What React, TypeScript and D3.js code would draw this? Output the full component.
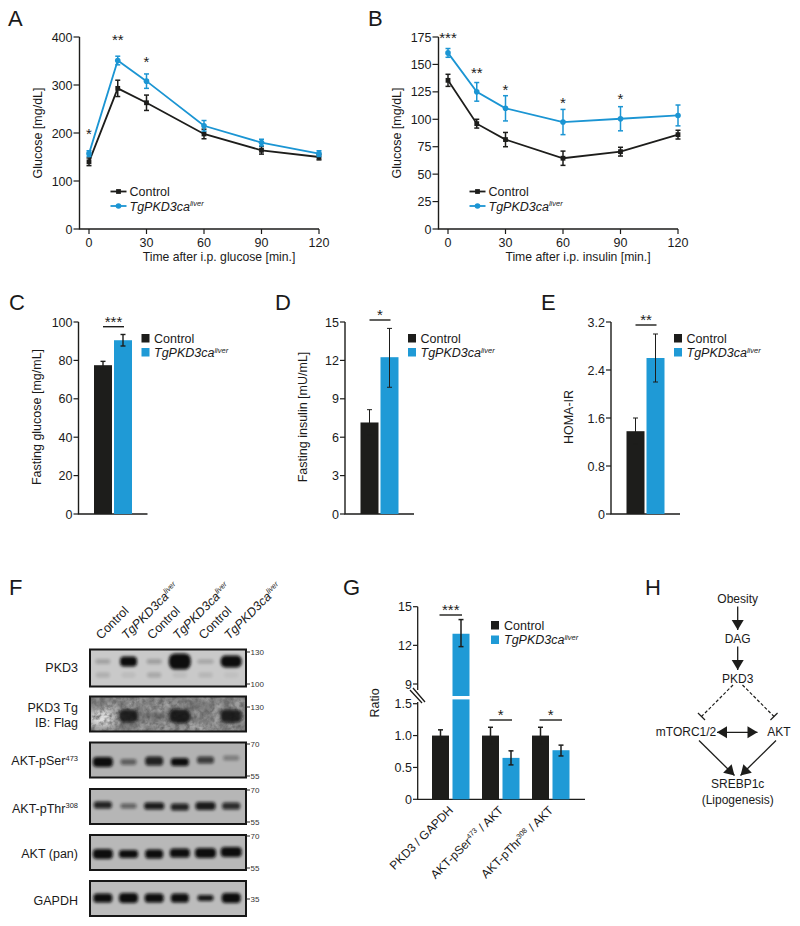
import * as d3 from "d3";

const BLACK = "#1d1d1b";
const BLUE = "#1f9ad6";
const LINE_BLUE = "#1b95d3";
const FONT = "'Liberation Sans', Arial, sans-serif";

// panels A and B
const minutes = [0, 15, 30, 60, 90, 120];
const minuteTicks = [0, 30, 60, 90, 120];
const gttControl = [140, 293, 263, 198, 164, 150];
const gttControlErr = [8, 17, 16, 10, 8, 6];
const gttTg = [157, 351, 308, 215, 180, 157];
const gttTgErr = [6, 9, 15, 11, 7, 6];
const gttStars = [
  { t: 0, v: 200, s: "*" },
  { t: 15, v: 395, s: "**" },
  { t: 30, v: 350, s: "*" },
];
const ittControl = [135.5, 96, 81.5, 64.5, 70.5, 86];
const ittControlErr = [5.5, 4, 6.5, 6.5, 4, 4];
const ittTg = [160.5, 125, 110, 97.5, 100.5, 103.5];
const ittTgErr = [4, 8.5, 11.5, 11.5, 11, 9.5];
const ittStars = [
  { t: 0, v: 175, s: "***" },
  { t: 15, v: 143, s: "**" },
  { t: 30, v: 128, s: "*" },
  { t: 60, v: 116, s: "*" },
  { t: 90, v: 119, s: "*" },
];

// panels C, D, E: [control, tg]
const fastingGlucose = [77.5, 90.5];
const fastingGlucoseErr = [[75.5, 79.5], [87.5, 93.5]];
const fastingInsulin = [7.15, 12.25];
const fastingInsulinErr = [[6.15, 8.15], [9.9, 14.5]];
const homa = [1.38, 2.6];
const homaErr = [[1.17, 1.6], [2.2, 3.0]];

// panel G
const ratioControl = [1, 1, 1];
const ratioControlErr = [[0.91, 1.09], [0.87, 1.13], [0.87, 1.13]];
const ratioTg = [12.9, 0.65, 0.77];
const ratioTgErr = [[11.9, 14], [0.54, 0.76], [0.68, 0.85]];
const ratioStars = ["***", "*", "*"];

// panel F band strengths per lane, 0..1
const laneNames = ["Control", "Tg", "Control", "Tg", "Control", "Tg"];
const pkd3Upper = [0.2, 1, 0.22, 1, 0.2, 1];
const pkd3UpperW = [15, 17, 15, 22, 16, 21];
const pkd3UpperH = [5, 10, 5, 16, 4, 12];
const pkd3Lower = [0.14, 0.07, 0.18, 0.07, 0.1, 0.05];
const flagBand = [0, 0.85, 0.14, 0.88, 0, 0.85];
const flagW = [10, 19, 18, 21, 10, 21];
const flagH = [4, 13, 5, 14, 4, 13];
const serBand = [1, 0.5, 0.88, 1, 0.72, 0.32];
const serW = [20, 16, 18, 18, 17, 16];
const serH = [10, 6, 9, 8, 7, 5];
const thrBand = [0.88, 0.5, 0.92, 0.88, 0.92, 0.82];
const thrW = [18, 16, 20, 18, 20, 18];
const thrH = [7, 5, 7, 7, 8, 7];
const panBand = [1, 1, 1, 1, 1, 1];
const panW = [20, 19, 18, 20, 21, 21];
const panH = [10, 8, 9, 9, 10, 10];
const gapdhBand = [1, 1, 1, 1, 0.95, 1];
const gapdhW = [19, 19, 19, 18, 16, 19];
const gapdhH = [9, 10, 9, 9, 6, 10];

const Tg = ({ size = 12 }: { size?: number }) => (
  <>
    <tspan fontStyle="italic">TgPKD3ca</tspan>
    <tspan fontStyle="italic" fontSize={size * 0.6} dy={-size * 0.35}>liver</tspan>
  </>
);

const Star = ({ x, y, s }: any) => (
  <text x={x} y={y} textAnchor="middle" fontSize={15} fill={BLACK}>{s}</text>
);

const ErrorBar = ({ x, y0, y1, color, cap = 2.5, w = 1.5 }: any) => (
  <g stroke={color} strokeWidth={w} fill="none">
    <line x1={x} x2={x} y1={y0} y2={y1} />
    <line x1={x - cap} x2={x + cap} y1={y0} y2={y0} />
    <line x1={x - cap} x2={x + cap} y1={y1} y2={y1} />
  </g>
);

const LinePanel = ({ left, label, ticks, maxY, xTitle, control, controlErr, tg, tgErr, stars }: any) => {
  const x = d3.scaleLinear().domain([0, 120]).range([left + 9.5, left + 239.5]);
  const y = d3.scaleLinear().domain([0, maxY]).range([229, 37]);
  const line = d3.line<number>().x((_, i) => x(minutes[i])).y((d) => y(d));
  return (
    <g>
      <path d={`M${left},37V229H${x(120)}`} fill="none" stroke={BLACK} strokeWidth={1.4} />
      {ticks.map((t: number) => (
        <g key={t}>
          <line x1={left - 6} x2={left} y1={y(t)} y2={y(t)} stroke={BLACK} strokeWidth={1.2} />
          <text x={left - 7} y={y(t) + 4.5} textAnchor="end" fontSize={12.5}>{t}</text>
        </g>
      ))}
      {minuteTicks.map((t) => (
        <g key={t}>
          <line x1={x(t)} x2={x(t)} y1={229} y2={234} stroke={BLACK} strokeWidth={1.2} />
          <text x={x(t)} y={247} textAnchor="middle" fontSize={12.5}>{t}</text>
        </g>
      ))}
      <text x={left + 139.5} y={261} textAnchor="middle" fontSize={12.2}>{xTitle}</text>
      <text transform={`translate(${left - 38},133) rotate(-90)`} textAnchor="middle" fontSize={12.5}>{label}</text>
      <path d={line(control) as string} fill="none" stroke={BLACK} strokeWidth={1.8} />
      {control.map((v: number, i: number) => (
        <g key={i}>
          <ErrorBar x={x(minutes[i])} y0={y(v - controlErr[i])} y1={y(v + controlErr[i])} color={BLACK} />
          <rect x={x(minutes[i]) - 2.4} y={y(v) - 2.4} width={4.8} height={4.8} fill={BLACK} />
        </g>
      ))}
      <path d={line(tg) as string} fill="none" stroke={LINE_BLUE} strokeWidth={1.8} />
      {tg.map((v: number, i: number) => (
        <g key={i}>
          <ErrorBar x={x(minutes[i])} y0={y(v - tgErr[i])} y1={y(v + tgErr[i])} color={LINE_BLUE} />
          <circle cx={x(minutes[i])} cy={y(v)} r={2.8} fill={LINE_BLUE} />
        </g>
      ))}
      {stars.map((s: any) => (
        <Star key={s.t} x={x(s.t)} y={y(s.v) + 6} s={s.s} />
      ))}
      <line x1={left + 31} x2={left + 47} y1={191.5} y2={191.5} stroke={BLACK} strokeWidth={1.8} />
      <rect x={left + 36.6} y={189.1} width={4.8} height={4.8} fill={BLACK} />
      <text x={left + 50} y={196} fontSize={12.5}>Control</text>
      <line x1={left + 31} x2={left + 47} y1={206} y2={206} stroke={LINE_BLUE} strokeWidth={1.8} />
      <circle cx={left + 39} cy={206} r={2.8} fill={LINE_BLUE} />
      <text x={left + 50} y={210.5} fontSize={12.5}><Tg size={12.5} /></text>
    </g>
  );
};

const BarPanel = ({ left, label, ticks, maxY, values, errs, star, sigY, thin }: any) => {
  const y = d3.scaleLinear().domain([0, maxY]).range([514, 322]);
  const x = d3.scaleBand<number>().domain([0, 1]).range([left + 15.5, left + 53.5]).paddingInner(0.1);
  const colors = [BLACK, BLUE];
  const bw = x.bandwidth();
  return (
    <g>
      <path d={`M${left},322V514H${left + 69}`} fill="none" stroke={BLACK} strokeWidth={1.4} />
      {ticks.map((t: number) => (
        <g key={t}>
          <line x1={left - 5} x2={left} y1={y(t)} y2={y(t)} stroke={BLACK} strokeWidth={1.2} />
          <text x={left - 6} y={y(t) + 4.5} textAnchor="end" fontSize={12.5}>{t}</text>
        </g>
      ))}
      <text transform={`translate(${left - 38},417) rotate(-90)`} textAnchor="middle" fontSize={12.5}>{label}</text>
      {values.map((v: number, i: number) => (
        <g key={i}>
          <rect x={x(i)} y={y(v)} width={bw} height={514 - y(v)} fill={colors[i]} />
          <ErrorBar x={(x(i) as number) + bw / 2} y0={y(errs[i][0])} y1={y(errs[i][1])} color={BLACK} w={thin ? 1 : 1.4} />
        </g>
      ))}
      <line x1={left + 24.5} x2={left + 45.5} y1={sigY} y2={sigY} stroke={BLACK} strokeWidth={1.4} />
      <Star x={left + 35} y={sigY} s={star} />
      <rect x={left + 63} y={334} width={8} height={8.5} fill={BLACK} />
      <text x={left + 75.5} y={343} fontSize={12.5}>Control</text>
      <rect x={left + 63} y={348} width={8} height={8.5} fill={BLUE} />
      <text x={left + 75.5} y={357} fontSize={12.5}><Tg size={12.5} /></text>
    </g>
  );
};

const laneX = d3.scaleBand<number>().domain(d3.range(6)).range([90, 244]);

const Blot = ({ top, bottom, bg, rows, noise, lines, marks }: any) => (
  <g>
    <clipPath id={`clip${top}`}>
      <rect x={90} y={top} width={156} height={bottom - top} />
    </clipPath>
    <rect x={90} y={top} width={156} height={bottom - top} fill={bg} />
    <g clipPath={`url(#clip${top})`}>
      {noise && <rect x={90} y={top} width={156} height={bottom - top} filter="url(#mottleLight)" opacity={0.4} />}
      {noise && <rect x={90} y={top + 14} width={24} height={16} fill="#e4e4e4" filter="url(#wideBlur)" />}
      {noise && <rect x={90} y={top} width={156} height={bottom - top} filter="url(#mottleDark)" opacity={0.85} />}
      {rows.map((r: any, ri: number) =>
        r.band.map((v: number, i: number) => (
          <rect
            key={`${ri}-${i}`}
            x={(laneX(i) as number) + laneX.bandwidth() / 2 - r.w[i] / 2}
            y={r.cy + (r.drift ? r.drift[i] : 0) - r.h[i] / 2}
            width={r.w[i]}
            height={r.h[i]}
            rx={Math.min(r.h[i], r.w[i]) * 0.4}
            fill="#0b0b0b"
            opacity={v}
            filter="url(#bandBlur)"
          />
        ))
      )}
    </g>
    <rect x={90} y={top} width={156} height={bottom - top} fill="none" stroke="#161616" strokeWidth={2} />
    {lines.map((l: any, i: number) => (
      <text key={i} x={78} y={l.y} textAnchor="end" fontSize={12.5}>
        {l.text}
        {l.sup && <tspan fontSize={7.5} dy={-4.5}>{l.sup}</tspan>}
      </text>
    ))}
    {marks.map((m: any) => (
      <g key={m.y}>
        <line x1={246} x2={250} y1={m.y} y2={m.y} stroke="#222" strokeWidth={1} />
        <text x={250.5} y={m.y + 3} fontSize={8} fill="#333">{m.t}</text>
      </g>
    ))}
  </g>
);

const PanelF = () => (
  <g>
    {laneNames.map((n, i) => (
      <text
        key={i}
        transform={`translate(${(laneX(i) as number) + 11},640) rotate(-45)`}
        fontSize={12.5}
      >
        {n === "Tg" ? <Tg size={12.5} /> : n}
      </text>
    ))}
    <Blot
      top={649.5}
      bottom={686.5}
      bg="#c9c9c9"
      rows={[
        { cy: 661.5, band: pkd3Upper, w: pkd3UpperW, h: pkd3UpperH },
        { cy: 675, band: pkd3Lower, w: pkd3UpperW.map(() => 14), h: pkd3UpperW.map(() => 5) },
      ]}
      lines={[{ y: 671.5, text: "PKD3" }]}
      marks={[{ y: 652, t: "130" }, { y: 684, t: "100" }]}
    />
    <Blot
      top={696.5}
      bottom={731.5}
      bg="#7e7e7e"
      noise
      rows={[{ cy: 716, band: flagBand, w: flagW, h: flagH }]}
      lines={[{ y: 711.5, text: "PKD3 Tg" }, { y: 727, text: "IB: Flag" }]}
      marks={[{ y: 707, t: "130" }]}
    />
    <Blot
      top={742.5}
      bottom={777.5}
      bg="#b2b2b2"
      rows={[{ cy: 761, band: serBand, w: serW, h: serH, drift: [1, 1, 0, 1, -1, -3] }]}
      lines={[{ y: 765, text: "AKT-pSer", sup: "473" }]}
      marks={[{ y: 744, t: "70" }, { y: 776, t: "55" }]}
    />
    <Blot
      top={789}
      bottom={824}
      bg="#b6b6b6"
      rows={[{ cy: 806, band: thrBand, w: thrW, h: thrH, drift: [-1, 0, 0, 1, 0, 0] }]}
      lines={[{ y: 812.5, text: "AKT-pThr", sup: "308" }]}
      marks={[{ y: 790, t: "70" }, { y: 822, t: "55" }]}
    />
    <Blot
      top={835}
      bottom={870}
      bg="#b8b8b8"
      rows={[{ cy: 853, band: panBand, w: panW, h: panH, drift: [1, 1, 1, 0, 0, -1] }]}
      lines={[{ y: 858, text: "AKT (pan)" }]}
      marks={[{ y: 836, t: "70" }, { y: 868, t: "55" }]}
    />
    <Blot
      top={881}
      bottom={916}
      bg="#bcbcbc"
      rows={[{ cy: 898, band: gapdhBand, w: gapdhW, h: gapdhH }]}
      lines={[{ y: 905, text: "GAPDH" }]}
      marks={[{ y: 899, t: "35" }]}
    />
  </g>
);

const PanelG = () => {
  const lower = d3.scaleLinear().domain([0, 1.5]).range([799.3, 703.7]);
  const upper = d3.scaleLinear().domain([9, 15]).range([684, 606.7]);
  const y = (v: number) => (v > 1.5 ? upper(v) : lower(v));
  const group = d3.scaleBand<number>().domain([0, 1, 2]).range([427, 577]).paddingInner(0);
  const barW = 17;
  const names = [
    { text: "PKD3 / GAPDH" },
    { text: "AKT-pSer", sup: "473", rest: " / AKT" },
    { text: "AKT-pThr", sup: "308", rest: " / AKT" },
  ];
  return (
    <g>
      <path d="M417.7,606.7V690M417.7,702V799.3H585" fill="none" stroke={BLACK} strokeWidth={1.3} />
      {[15, 12, 9].map((t) => (
        <g key={t}>
          <line x1={413} x2={417.7} y1={upper(t)} y2={upper(t)} stroke={BLACK} strokeWidth={1.2} />
          <text x={412} y={upper(t) + 4.5} textAnchor="end" fontSize={12.5}>{t}</text>
        </g>
      ))}
      {[0, 0.5, 1, 1.5].map((t) => (
        <g key={t}>
          <line x1={413} x2={417.7} y1={lower(t)} y2={lower(t)} stroke={BLACK} strokeWidth={1.2} />
          <text x={412} y={lower(t) + 4.5} textAnchor="end" fontSize={12.5}>{t === 0 ? "0" : t.toFixed(1)}</text>
        </g>
      ))}
      <path d="M410,690L422,703M413,688L425,702" stroke={BLACK} strokeWidth={1.3} fill="none" />
      <text transform="translate(379,703) rotate(-90)" textAnchor="middle" fontSize={12.5}>Ratio</text>
      {ratioControl.map((v, i) => {
        const gx = group(i) as number;
        const cx = gx + 5 + barW / 2;
        const tx = gx + 25.5 + barW / 2;
        const sig = i === 0 ? 615 : 720;
        return (
          <g key={i}>
            <rect x={gx + 5} y={y(v)} width={barW} height={799.3 - y(v)} fill={BLACK} />
            <rect x={gx + 25.5} y={y(ratioTg[i])} width={barW} height={799.3 - y(ratioTg[i])} fill={BLUE} />
            {i === 0 && <rect x={gx + 24} y={696} width={barW + 4} height={3.4} fill="#fff" />}
            <ErrorBar x={cx} y0={y(ratioControlErr[i][0])} y1={y(ratioControlErr[i][1])} color={BLACK} />
            <ErrorBar x={tx} y0={y(ratioTgErr[i][0])} y1={y(ratioTgErr[i][1])} color={BLACK} />
            <line x1={cx - 1} x2={tx + 1} y1={sig} y2={sig} stroke={BLACK} strokeWidth={1.4} />
            <Star x={(cx + tx) / 2} y={sig} s={ratioStars[i]} />
            <text transform={`translate(${gx + 27},811) rotate(-45)`} textAnchor="end" fontSize={12}>
              {names[i].text}
              {names[i].sup && <tspan fontSize={7.2} dy={-4.5}>{names[i].sup}</tspan>}
              {names[i].rest && <tspan dy={4.5}>{names[i].rest}</tspan>}
            </text>
          </g>
        );
      })}
      <rect x={491} y={621} width={8} height={8.5} fill={BLACK} />
      <text x={504} y={630} fontSize={12.5}>Control</text>
      <rect x={491} y={635.5} width={8} height={8.5} fill={BLUE} />
      <text x={504} y={644} fontSize={12.5}><Tg size={12.5} /></text>
    </g>
  );
};

const Arrow = ({ x1, y1, x2, y2, both }: any) => {
  const a = Math.atan2(y2 - y1, x2 - x1);
  const head = (px: number, py: number, ang: number) => {
    const bx = px - Math.cos(ang) * 10;
    const by = py - Math.sin(ang) * 10;
    const nx = -Math.sin(ang) * 6;
    const ny = Math.cos(ang) * 6;
    return `M${px},${py}L${bx + nx},${by + ny}L${bx - nx},${by - ny}Z`;
  };
  return (
    <g>
      <line x1={x1} y1={y1} x2={x2} y2={y2} stroke={BLACK} strokeWidth={1.3} />
      <path d={head(x2, y2, a)} fill={BLACK} />
      {both && <path d={head(x1, y1, a + Math.PI)} fill={BLACK} />}
    </g>
  );
};

const Inhibit = ({ x1, y1, x2, y2 }: any) => {
  const a = Math.atan2(y2 - y1, x2 - x1);
  const nx = -Math.sin(a) * 5;
  const ny = Math.cos(a) * 5;
  return (
    <g stroke={BLACK} strokeWidth={1.2}>
      <line x1={x1} y1={y1} x2={x2} y2={y2} strokeDasharray="3.2 2" />
      <line x1={x2 + nx} y1={y2 + ny} x2={x2 - nx} y2={y2 - ny} />
    </g>
  );
};

const PanelH = () => (
  <g fontSize={12} textAnchor="middle">
    <text x={737.7} y={603}>Obesity</text>
    <text x={737.7} y={642.5}>DAG</text>
    <text x={737.7} y={683}>PKD3</text>
    <text x={686} y={736}>mTORC1/2</text>
    <text x={779} y={736}>AKT</text>
    <text x={737.7} y={788}>SREBP1c</text>
    <text x={737.7} y={804}>(Lipogenesis)</text>
    <Arrow x1={737.7} y1={606.5} x2={737.7} y2={630} />
    <Arrow x1={737.7} y1={646.5} x2={737.7} y2={670} />
    <Inhibit x1={733} y1={685} x2={701.5} y2={716.5} />
    <Inhibit x1={742.5} y1={685} x2={774} y2={716.5} />
    <Arrow x1={717} y1={732.3} x2={757.5} y2={732.3} both />
    <Arrow x1={699} y1={740.5} x2={734.5} y2={775.5} />
    <Arrow x1={776} y1={740.5} x2={740.5} y2={775.5} />
  </g>
);

const panelLetters = [
  { t: "A", x: 8, y: 26 },
  { t: "B", x: 368, y: 26 },
  { t: "C", x: 9, y: 310 },
  { t: "D", x: 275, y: 310 },
  { t: "E", x: 541, y: 310 },
  { t: "F", x: 9, y: 595 },
  { t: "G", x: 343, y: 595 },
  { t: "H", x: 645, y: 595 },
];

export default function App() {
  return (
    <svg
      width={800}
      height={926}
      style={{ position: "absolute", left: 0, top: 0, display: "block", background: "#fff" }}
      fontFamily={FONT}
      fill="#1a1a1a"
    >
      <defs>
        <filter id="bandBlur" x="-40%" y="-80%" width="180%" height="260%">
          <feGaussianBlur stdDeviation="1.4" />
        </filter>
        <filter id="wideBlur" x="-50%" y="-50%" width="200%" height="200%">
          <feGaussianBlur stdDeviation="4" />
        </filter>
        <filter id="mottleDark" x="0" y="0" width="100%" height="100%">
          <feTurbulence type="fractalNoise" baseFrequency="0.2" numOctaves={3} seed={4} />
          <feColorMatrix values="0 0 0 0 0.12  0 0 0 0 0.12  0 0 0 0 0.12  2.4 0 0 0 -0.95" />
        </filter>
        <filter id="mottleLight" x="0" y="0" width="100%" height="100%">
          <feTurbulence type="fractalNoise" baseFrequency="0.09" numOctaves={3} seed={11} />
          <feColorMatrix values="0 0 0 0 0.85  0 0 0 0 0.85  0 0 0 0 0.85  2.2 0 0 0 -0.8" />
        </filter>
      </defs>
      {panelLetters.map((l) => (
        <text key={l.t} x={l.x} y={l.y} fontSize={22}>{l.t}</text>
      ))}
      <LinePanel
        left={79.5}
        label="Glucose [mg/dL]"
        ticks={[0, 100, 200, 300, 400]}
        maxY={400}
        xTitle="Time after i.p. glucose [min.]"
        control={gttControl}
        controlErr={gttControlErr}
        tg={gttTg}
        tgErr={gttTgErr}
        stars={gttStars}
      />
      <LinePanel
        left={438.5}
        label="Glucose [mg/dL]"
        ticks={[0, 25, 50, 75, 100, 125, 150, 175]}
        maxY={175}
        xTitle="Time after i.p. insulin [min.]"
        control={ittControl}
        controlErr={ittControlErr}
        tg={ittTg}
        tgErr={ittTgErr}
        stars={ittStars}
      />
      <BarPanel left={78.5} label="Fasting glucose [mg/mL]" ticks={[0, 20, 40, 60, 80, 100]} maxY={100} values={fastingGlucose} errs={fastingGlucoseErr} star="***" sigY={326.7} />
      <BarPanel left={345} label="Fasting insulin [mU/mL]" ticks={[0, 3, 6, 9, 12, 15]} maxY={15} values={fastingInsulin} errs={fastingInsulinErr} star="*" sigY={320} thin />
      <BarPanel left={611} label="HOMA-IR" ticks={[0, 0.8, 1.6, 2.4, 3.2]} maxY={3.2} values={homa} errs={homaErr} star="**" sigY={325} thin />
      <PanelF />
      <PanelG />
      <PanelH />
    </svg>
  );
}
